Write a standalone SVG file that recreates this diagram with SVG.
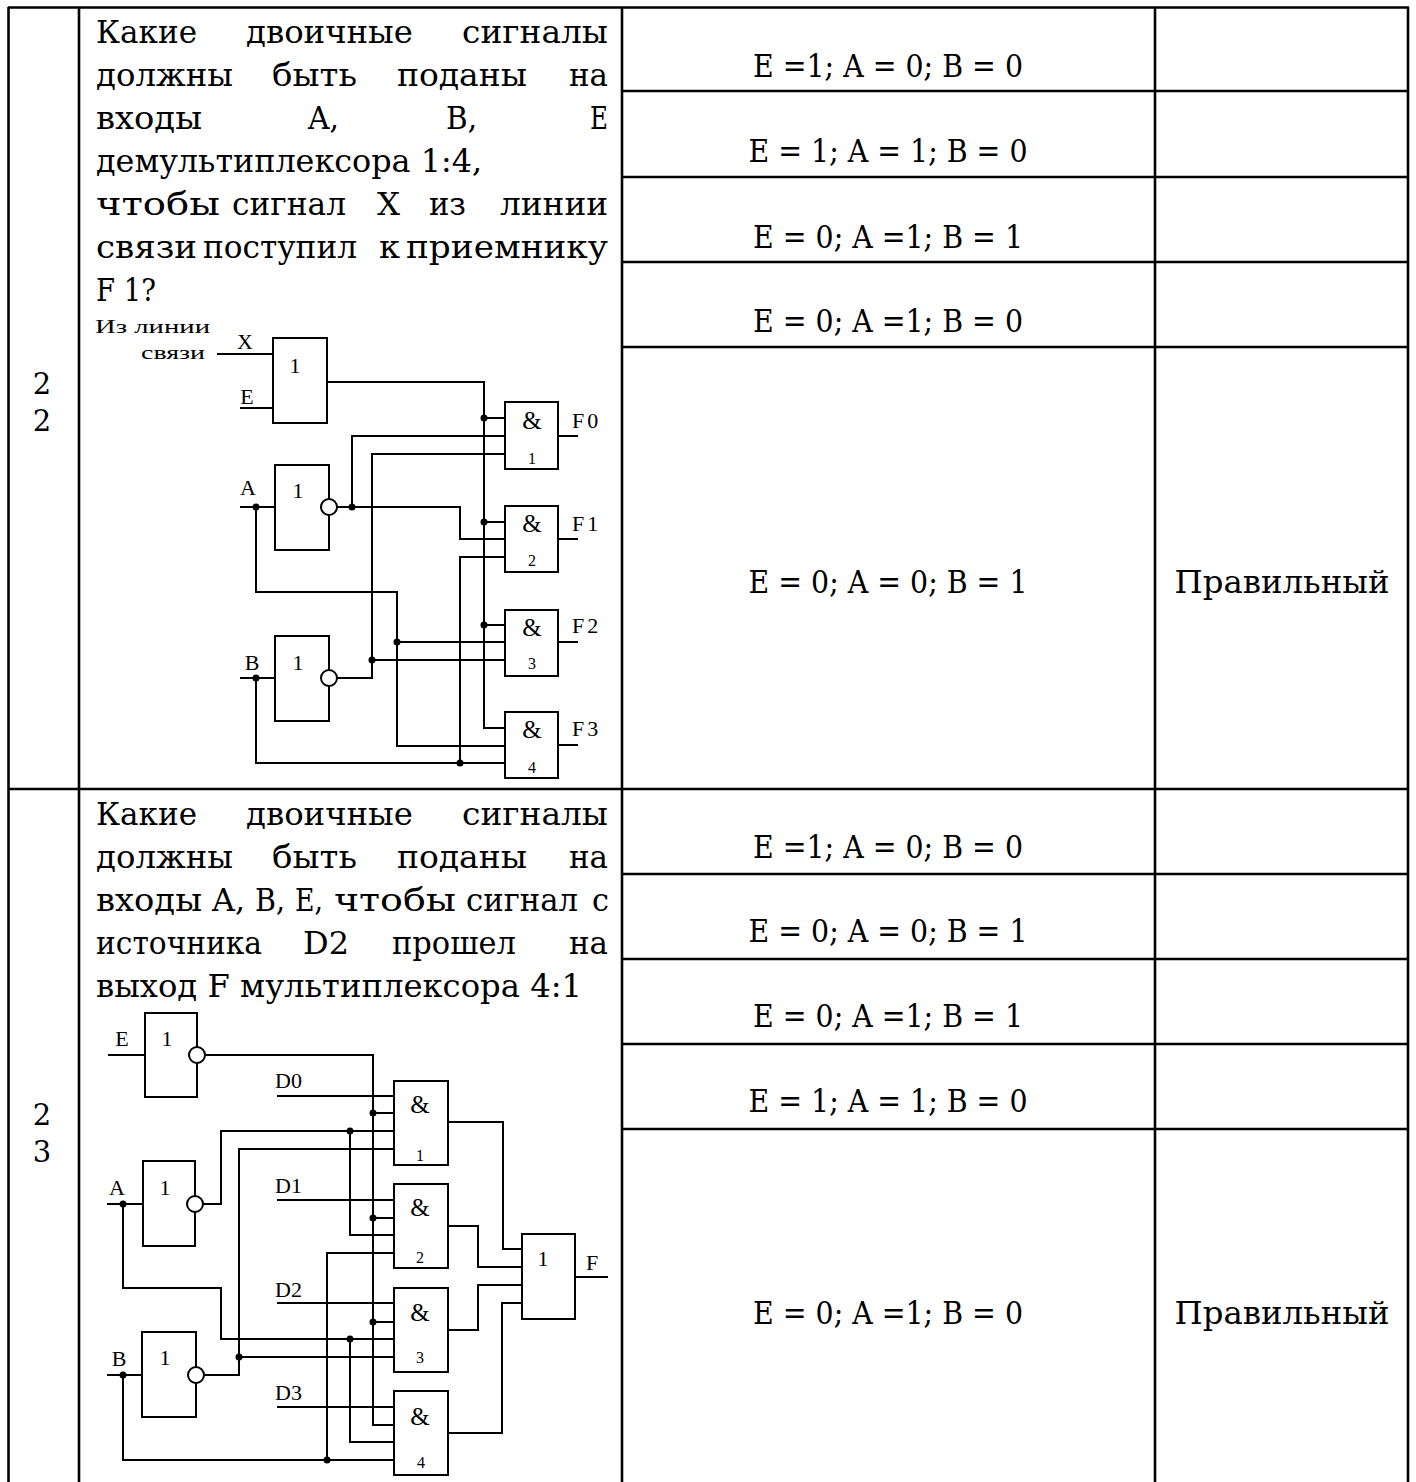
<svg xmlns="http://www.w3.org/2000/svg" width="1416" height="1482" viewBox="0 0 1416 1482">
<style>
.t{font-family:"DejaVu Serif","Liberation Serif",serif;font-size:31px;fill:#000}
.n{font-family:"DejaVu Serif","Liberation Serif",serif;font-size:29px;fill:#000;text-anchor:middle}
.ans{font-family:"DejaVu Serif","Liberation Serif",serif;font-size:31px;fill:#000;text-anchor:middle}
.c{font-family:"Liberation Serif","Times New Roman",serif;font-size:22px;fill:#000}
.cl{font-family:"Liberation Serif","Times New Roman",serif;font-size:19px;fill:#000}
.cm{font-family:"Liberation Serif","Times New Roman",serif;font-size:22px;fill:#000;text-anchor:middle}
.amp{font-family:"Liberation Serif","Times New Roman",serif;font-size:25px;fill:#000;text-anchor:middle}
.cs{font-family:"Liberation Serif","Times New Roman",serif;font-size:16px;fill:#000;text-anchor:middle}
.grid{stroke:#000;stroke-width:2.6;fill:none}
.w{fill:none;stroke:#000;stroke-width:2}
.g{fill:#fff;stroke:#000;stroke-width:2}
.d{fill:#000}
</style>
<rect width="1416" height="1482" fill="#fff"/>

<g id="table">
<path class="grid" d="M8 7.5H1409 M8.5 7V1482 M79 7V1482 M622 7V1482 M1155 7V1482 M1408 7V1482 M8 789H1408"/>
<path class="grid" d="M622 91H1408 M622 177H1408 M622 262H1408 M622 347H1408 M622 874H1408 M622 959H1408 M622 1044H1408 M622 1129H1408"/>
</g>

<g id="numbers">
<text class="n" x="42" y="394">2</text>
<text class="n" x="42" y="431">2</text>
<text class="n" x="42" y="1125">2</text>
<text class="n" x="42" y="1162">3</text>
</g>

<g id="question22">
<text class="t" x="96" y="43" textLength="101" lengthAdjust="spacingAndGlyphs">Какие</text>
<text class="t" x="246" y="43" textLength="167" lengthAdjust="spacingAndGlyphs">двоичные</text>
<text class="t" x="462" y="43" textLength="146" lengthAdjust="spacingAndGlyphs">сигналы</text>
<text class="t" x="96" y="86" textLength="137" lengthAdjust="spacingAndGlyphs">должны</text>
<text class="t" x="272" y="86" textLength="85" lengthAdjust="spacingAndGlyphs">быть</text>
<text class="t" x="397" y="86" textLength="130" lengthAdjust="spacingAndGlyphs">поданы</text>
<text class="t" x="569" y="86" textLength="39" lengthAdjust="spacingAndGlyphs">на</text>
<text class="t" x="96" y="129" textLength="106" lengthAdjust="spacingAndGlyphs">входы</text>
<text class="t" x="308" y="129" textLength="31" lengthAdjust="spacingAndGlyphs">A,</text>
<text class="t" x="446" y="129" textLength="31" lengthAdjust="spacingAndGlyphs">B,</text>
<text class="t" x="590" y="129" textLength="18" lengthAdjust="spacingAndGlyphs">E</text>
<text class="t" x="96" y="172" textLength="386" lengthAdjust="spacingAndGlyphs">демультиплексора 1:4,</text>
<text class="t" x="96" y="215" textLength="124" lengthAdjust="spacingAndGlyphs">чтобы</text>
<text class="t" x="232" y="215" textLength="114" lengthAdjust="spacingAndGlyphs">сигнал</text>
<text class="t" x="377" y="215" textLength="23" lengthAdjust="spacingAndGlyphs">X</text>
<text class="t" x="429" y="215" textLength="37" lengthAdjust="spacingAndGlyphs">из</text>
<text class="t" x="500" y="215" textLength="108" lengthAdjust="spacingAndGlyphs">линии</text>
<text class="t" x="96" y="258" textLength="101" lengthAdjust="spacingAndGlyphs">связи</text>
<text class="t" x="203" y="258" textLength="154" lengthAdjust="spacingAndGlyphs">поступил</text>
<text class="t" x="379" y="258" textLength="21" lengthAdjust="spacingAndGlyphs">к</text>
<text class="t" x="406" y="258" textLength="202" lengthAdjust="spacingAndGlyphs">приемнику</text>
<text class="t" x="96" y="301" textLength="60" lengthAdjust="spacingAndGlyphs">F 1?</text>
</g>

<g id="question23">
<text class="t" x="96" y="825" textLength="101" lengthAdjust="spacingAndGlyphs">Какие</text>
<text class="t" x="246" y="825" textLength="167" lengthAdjust="spacingAndGlyphs">двоичные</text>
<text class="t" x="462" y="825" textLength="146" lengthAdjust="spacingAndGlyphs">сигналы</text>
<text class="t" x="96" y="868" textLength="137" lengthAdjust="spacingAndGlyphs">должны</text>
<text class="t" x="272" y="868" textLength="85" lengthAdjust="spacingAndGlyphs">быть</text>
<text class="t" x="397" y="868" textLength="130" lengthAdjust="spacingAndGlyphs">поданы</text>
<text class="t" x="569" y="868" textLength="39" lengthAdjust="spacingAndGlyphs">на</text>
<text class="t" x="96" y="911" textLength="106" lengthAdjust="spacingAndGlyphs">входы</text>
<text class="t" x="212" y="911" textLength="33" lengthAdjust="spacingAndGlyphs">A,</text>
<text class="t" x="255" y="911" textLength="30" lengthAdjust="spacingAndGlyphs">B,</text>
<text class="t" x="295" y="911" textLength="28" lengthAdjust="spacingAndGlyphs">E,</text>
<text class="t" x="334" y="911" textLength="122" lengthAdjust="spacingAndGlyphs">чтобы</text>
<text class="t" x="466" y="911" textLength="112" lengthAdjust="spacingAndGlyphs">сигнал</text>
<text class="t" x="592" y="911" textLength="17" lengthAdjust="spacingAndGlyphs">с</text>
<text class="t" x="96" y="954" textLength="166" lengthAdjust="spacingAndGlyphs">источника</text>
<text class="t" x="303" y="954" textLength="46" lengthAdjust="spacingAndGlyphs">D2</text>
<text class="t" x="392" y="954" textLength="124" lengthAdjust="spacingAndGlyphs">прошел</text>
<text class="t" x="569" y="954" textLength="39" lengthAdjust="spacingAndGlyphs">на</text>
<text class="t" x="96" y="997" textLength="486" lengthAdjust="spacingAndGlyphs">выход F  мультиплексора 4:1</text>
</g>

<g id="answers">
<text class="ans" x="888" y="77" textLength="270" lengthAdjust="spacingAndGlyphs">E =1; A = 0; B = 0</text>
<text class="ans" x="888" y="162" textLength="279" lengthAdjust="spacingAndGlyphs">E = 1; A = 1; B = 0</text>
<text class="ans" x="888" y="248" textLength="270" lengthAdjust="spacingAndGlyphs">E = 0; A =1; B = 1</text>
<text class="ans" x="888" y="332" textLength="270" lengthAdjust="spacingAndGlyphs">E = 0; A =1; B = 0</text>
<text class="ans" x="888" y="593" textLength="279" lengthAdjust="spacingAndGlyphs">E = 0; A = 0; B = 1</text>
<text class="ans" x="1282" y="593" textLength="215" lengthAdjust="spacingAndGlyphs">Правильный</text>
<text class="ans" x="888" y="858" textLength="270" lengthAdjust="spacingAndGlyphs">E =1; A = 0; B = 0</text>
<text class="ans" x="888" y="942" textLength="279" lengthAdjust="spacingAndGlyphs">E = 0; A = 0; B = 1</text>
<text class="ans" x="888" y="1027" textLength="270" lengthAdjust="spacingAndGlyphs">E = 0; A =1; B = 1</text>
<text class="ans" x="888" y="1112" textLength="279" lengthAdjust="spacingAndGlyphs">E = 1; A = 1; B = 0</text>
<text class="ans" x="888" y="1324" textLength="270" lengthAdjust="spacingAndGlyphs">E = 0; A =1; B = 0</text>
<text class="ans" x="1282" y="1324" textLength="215" lengthAdjust="spacingAndGlyphs">Правильный</text>
</g>

<!-- Circuit 1: demultiplexer 1:4 -->
<g id="demux-connectors">
<path class="w" d="M217 354H273 M240 408H273"/>
<path class="w" d="M327 382H484V728H505 M484 418H505 M484 522H505 M484 625H505"/>
<path class="w" d="M240 507H275 M337 507H460V539H505 M352 507V436H505"/>
<path class="w" d="M256 507V592H397V746H505 M397 642H505"/>
<path class="w" d="M240 678H275 M337 678H372V454H505 M372 660H505"/>
<path class="w" d="M256 678V763H505 M460 763V557H505"/>
<path class="w" d="M558 436H578 M558 539H578 M558 642H578 M558 745H578"/>
<circle class="d" cx="484" cy="418" r="3.5"/>
<circle class="d" cx="484" cy="522" r="3.5"/>
<circle class="d" cx="484" cy="625" r="3.5"/>
<circle class="d" cx="352" cy="507" r="3.5"/>
<circle class="d" cx="256" cy="507" r="3.5"/>
<circle class="d" cx="397" cy="642" r="3.5"/>
<circle class="d" cx="372" cy="660" r="3.5"/>
<circle class="d" cx="256" cy="678" r="3.5"/>
<circle class="d" cx="460" cy="763" r="3.5"/>
</g>
<g id="demux-labels">
<text class="cl" x="95" y="333" textLength="115" lengthAdjust="spacingAndGlyphs">Из линии</text>
<text class="cl" x="141" y="359" textLength="64" lengthAdjust="spacingAndGlyphs">связи</text>
<text class="cm" x="245" y="349">X</text>
<text class="cm" x="247" y="404">E</text>
<text class="cm" x="248" y="495">A</text>
<text class="cm" x="252" y="670">B</text>
<text class="c" x="572" y="428" letter-spacing="3">F0</text>
<text class="c" x="572" y="531" letter-spacing="3">F1</text>
<text class="c" x="572" y="633" letter-spacing="3">F2</text>
<text class="c" x="572" y="736" letter-spacing="3">F3</text>
</g>
<g id="demux-gate-or">
<rect class="g" x="273" y="338" width="54" height="85"/>
<text class="cm" x="295" y="373">1</text>
</g>
<g id="demux-not-a">
<rect class="g" x="275" y="465" width="54" height="85"/>
<circle class="g" cx="329" cy="507" r="8"/>
<text class="cm" x="298" y="498">1</text>
</g>
<g id="demux-not-b">
<rect class="g" x="275" y="636" width="54" height="85"/>
<circle class="g" cx="329" cy="678" r="8"/>
<text class="cm" x="298" y="670">1</text>
</g>
<g id="demux-and1">
<rect class="g" x="505" y="402" width="53" height="67"/>
<text class="amp" x="532" y="429">&amp;</text>
<text class="cs" x="532" y="464">1</text>
</g>
<g id="demux-and2">
<rect class="g" x="505" y="506" width="53" height="66"/>
<text class="amp" x="532" y="532">&amp;</text>
<text class="cs" x="532" y="566">2</text>
</g>
<g id="demux-and3">
<rect class="g" x="505" y="610" width="53" height="66"/>
<text class="amp" x="532" y="636">&amp;</text>
<text class="cs" x="532" y="669">3</text>
</g>
<g id="demux-and4">
<rect class="g" x="505" y="712" width="53" height="66"/>
<text class="amp" x="532" y="738">&amp;</text>
<text class="cs" x="532" y="773">4</text>
</g>

<!-- Circuit 2: multiplexer 4:1 -->
<g id="mux-connectors">
<path class="w" d="M108 1055H145 M205 1055H373V1425H394 M373 1113H394 M373 1218H394 M373 1322H394"/>
<path class="w" d="M277 1096H394 M277 1200H394 M277 1303H394 M277 1407H394"/>
<path class="w" d="M107 1204H143 M203 1204H221V1131H394 M350 1131V1235H394"/>
<path class="w" d="M123 1204V1288H221V1339H394 M350 1339V1442H394"/>
<path class="w" d="M107 1375H142 M204 1375H239V1149H394 M239 1357H394"/>
<path class="w" d="M123 1375V1460H394 M327 1460V1253H394"/>
<path class="w" d="M448 1122H503V1249H522 M448 1226H478V1267H522 M448 1330H478V1285H522 M448 1433H502V1303H522"/>
<path class="w" d="M575 1277H608"/>
<circle class="d" cx="373" cy="1113" r="3.5"/>
<circle class="d" cx="373" cy="1218" r="3.5"/>
<circle class="d" cx="373" cy="1322" r="3.5"/>
<circle class="d" cx="350" cy="1131" r="3.5"/>
<circle class="d" cx="350" cy="1339" r="3.5"/>
<circle class="d" cx="123" cy="1204" r="3.5"/>
<circle class="d" cx="123" cy="1375" r="3.5"/>
<circle class="d" cx="239" cy="1357" r="3.5"/>
<circle class="d" cx="327" cy="1460" r="3.5"/>
</g>
<g id="mux-labels">
<text class="cm" x="122" y="1046">E</text>
<text class="cm" x="117" y="1195">A</text>
<text class="cm" x="119" y="1366">B</text>
<text class="c" x="275" y="1088">D0</text>
<text class="c" x="275" y="1193">D1</text>
<text class="c" x="275" y="1297">D2</text>
<text class="c" x="275" y="1400">D3</text>
<text class="cm" x="592" y="1270">F</text>
</g>
<g id="mux-not-e">
<rect class="g" x="145" y="1013" width="52" height="84"/>
<circle class="g" cx="197" cy="1055" r="8"/>
<text class="cm" x="167" y="1046">1</text>
</g>
<g id="mux-not-a">
<rect class="g" x="143" y="1161" width="52" height="85"/>
<circle class="g" cx="195" cy="1204" r="8"/>
<text class="cm" x="165" y="1195">1</text>
</g>
<g id="mux-not-b">
<rect class="g" x="142" y="1332" width="54" height="85"/>
<circle class="g" cx="196" cy="1375" r="8"/>
<text class="cm" x="165" y="1365">1</text>
</g>
<g id="mux-and1">
<rect class="g" x="394" y="1081" width="54" height="84"/>
<text class="amp" x="420" y="1113">&amp;</text>
<text class="cs" x="420" y="1161">1</text>
</g>
<g id="mux-and2">
<rect class="g" x="394" y="1184" width="54" height="84"/>
<text class="amp" x="420" y="1216">&amp;</text>
<text class="cs" x="420" y="1263">2</text>
</g>
<g id="mux-and3">
<rect class="g" x="394" y="1288" width="54" height="84"/>
<text class="amp" x="420" y="1321">&amp;</text>
<text class="cs" x="420" y="1363">3</text>
</g>
<g id="mux-and4">
<rect class="g" x="394" y="1391" width="54" height="84"/>
<text class="amp" x="420" y="1425">&amp;</text>
<text class="cs" x="421" y="1468">4</text>
</g>
<g id="mux-or">
<rect class="g" x="522" y="1234" width="53" height="85"/>
<text class="cm" x="543" y="1266">1</text>
</g>
</svg>
